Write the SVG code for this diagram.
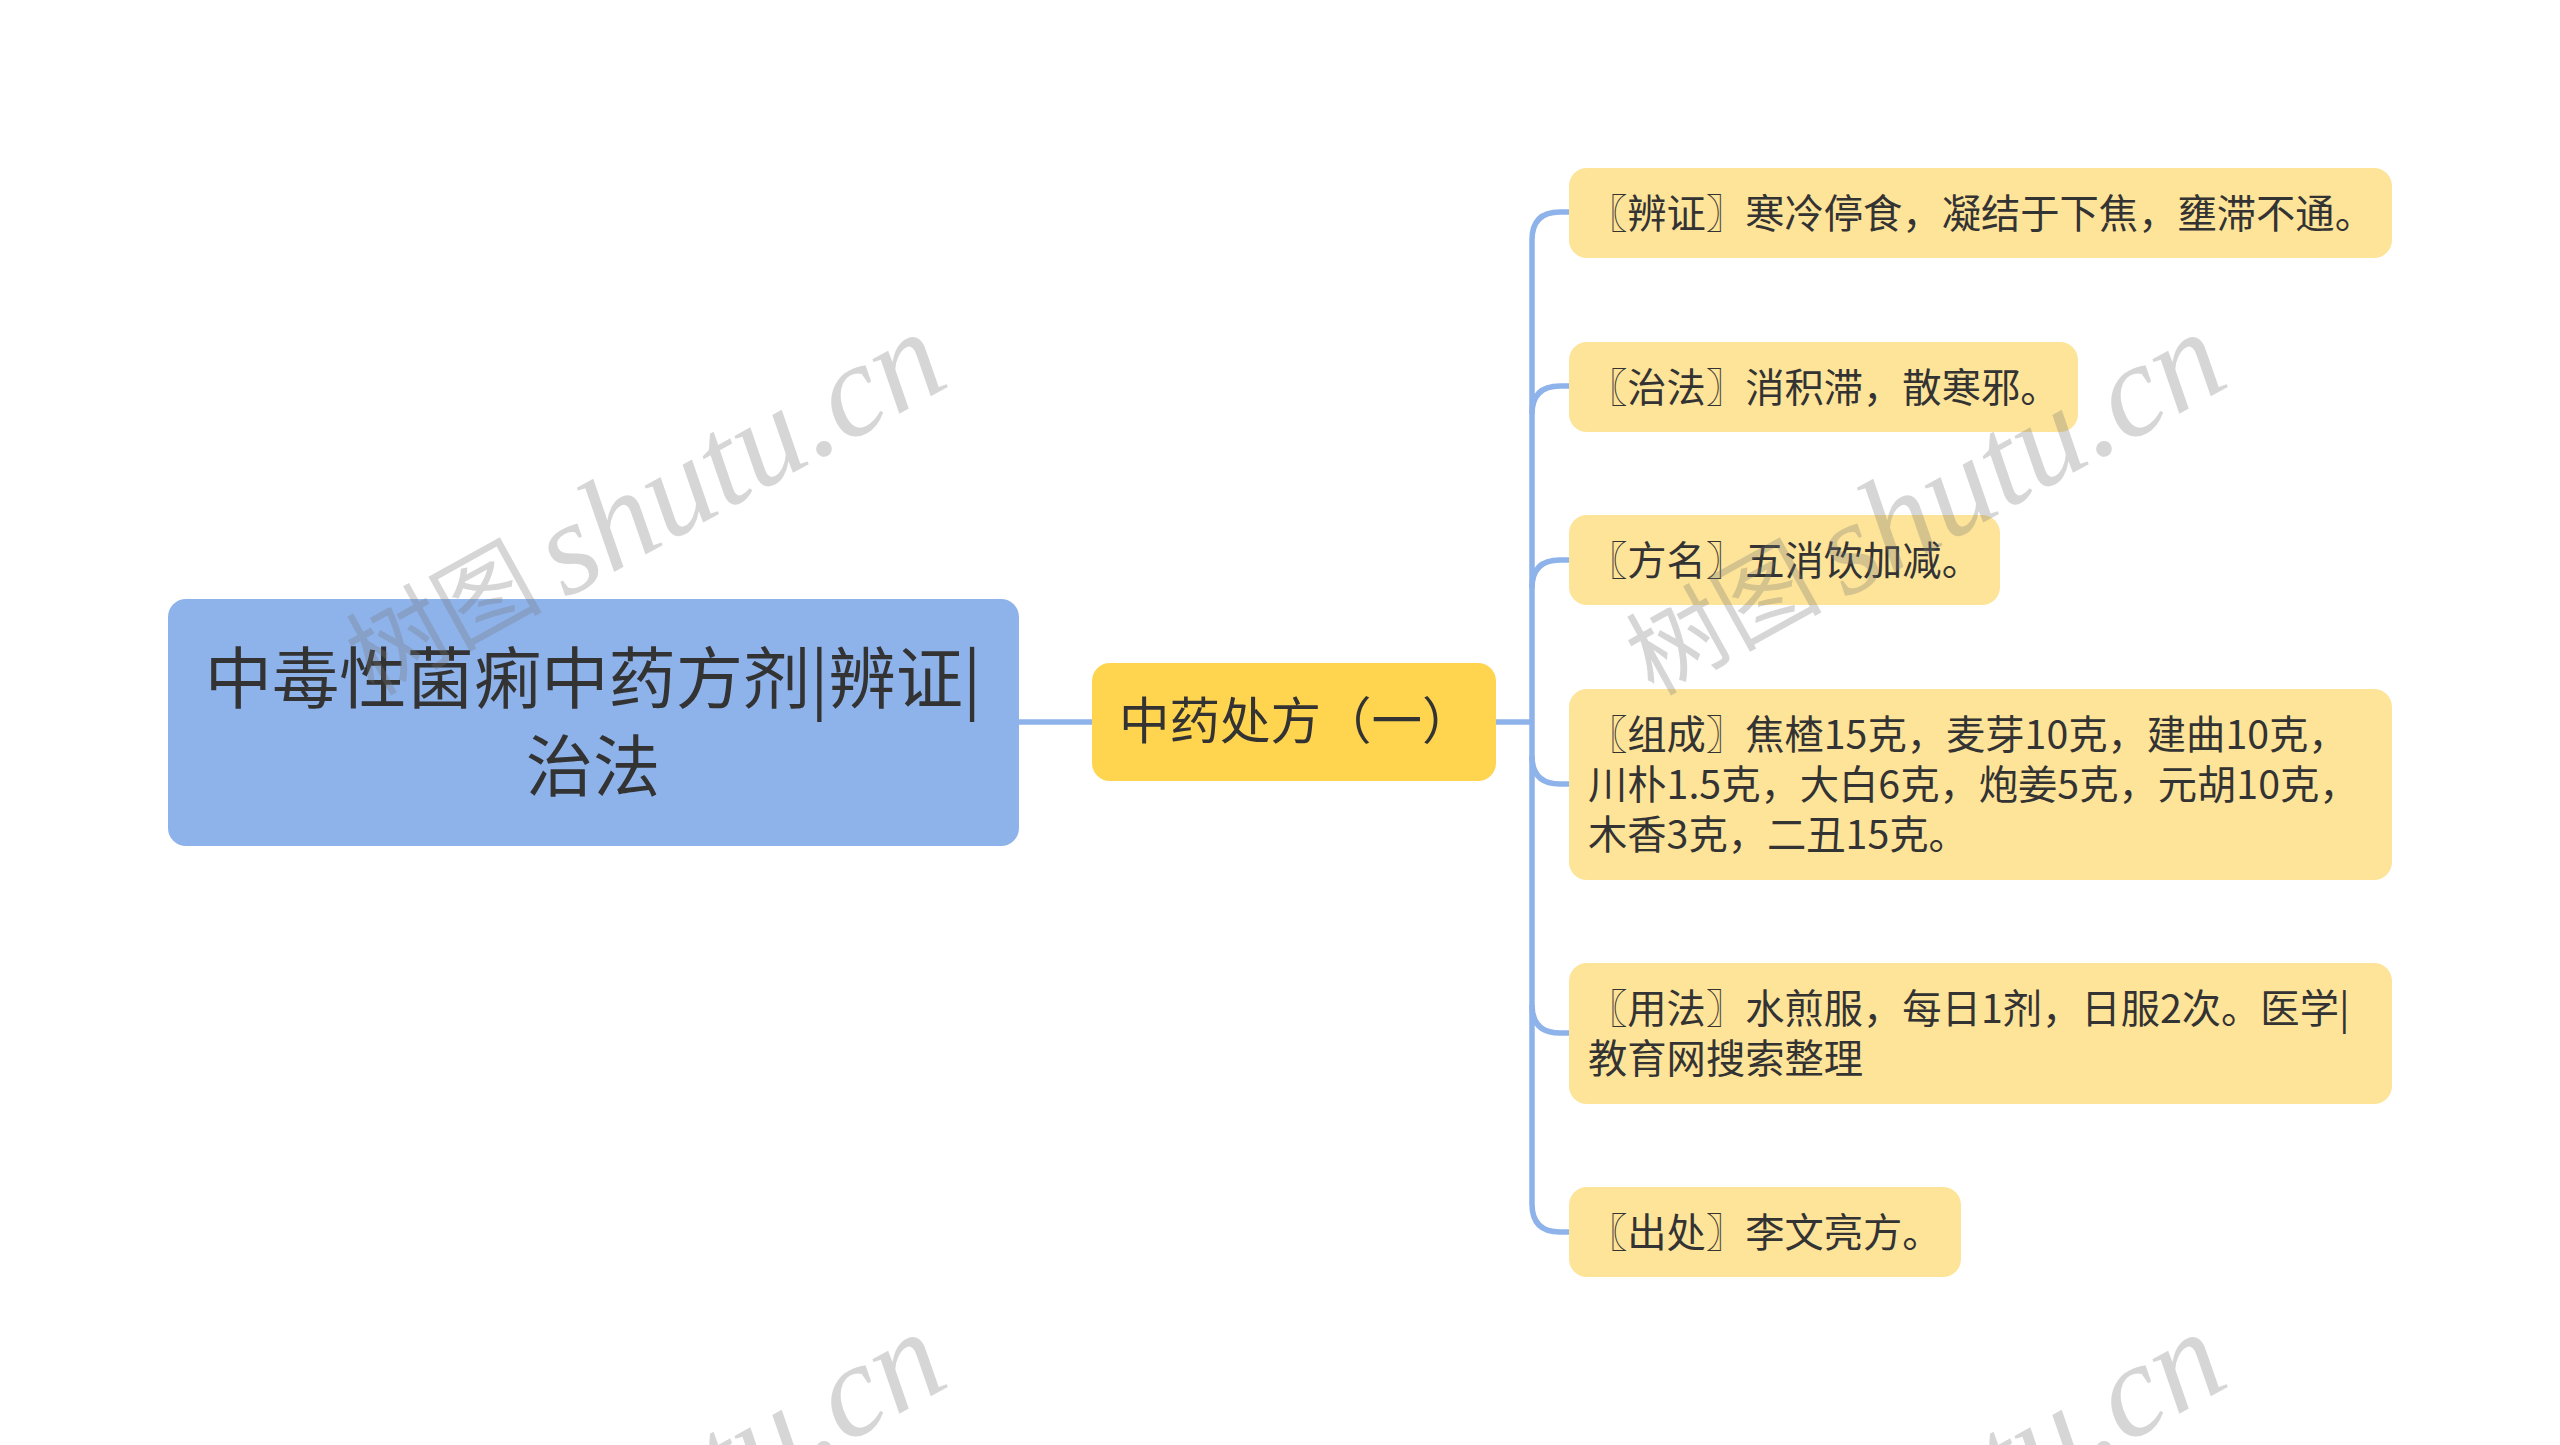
<svg xmlns="http://www.w3.org/2000/svg" width="2560" height="1445" viewBox="0 0 2560 1445">
<style>
text{font-family:"Noto Sans CJK SC","Noto Sans",sans-serif}
.leaf rect{fill:#fee499}
.leaf text{font-size:39.3px;fill:#333}
.wm{fill:#777;fill-opacity:.3}
.wl{font-family:"Liberation Serif",serif;font-style:italic;font-size:132px;text-anchor:end}
.wc{font-size:98px;text-anchor:middle}
#connectors path{fill:none;stroke:#8eb2ea;stroke-width:5.5}
</style>
<defs>
<text id="wl" class="wm wl" transform="rotate(-29)">shutu.cn</text>
<text id="wc" class="wm wc" transform="rotate(-29)">树图</text>
</defs>
<rect width="2560" height="1445" fill="#fff"/>
<g id="connectors">
<path d="M1019 722H1093"/>
<path d="M1495 722H1532"/>
<path d="M1569 212H1560Q1532 212 1532 240V1204Q1532 1232 1560 1232H1569"/>
<path d="M1569 386H1560Q1532 386 1532 414"/>
<path d="M1569 560H1560Q1532 560 1532 588"/>
<path d="M1569 784H1560Q1532 784 1532 756"/>
<path d="M1569 1033H1560Q1532 1033 1532 1005"/>
</g>
<g id="root"><rect x="168" y="599" width="851" height="247" rx="18" fill="#8eb2ea"/>
<text x="593" y="703" font-size="67.3" fill="#333" text-anchor="middle">中毒性菌痢中药方剂|辨证|</text>
<text x="593" y="791" font-size="67.3" fill="#333" text-anchor="middle">治法</text></g>
<g id="mid"><rect x="1092" y="663" width="404" height="118" rx="18" fill="#ffd44f"/>
<text x="1119" y="739" font-size="50.5" fill="#333">中药处方（一）</text></g>
<g id="n1" class="leaf"><rect x="1569" y="168" width="823" height="90" rx="18"/><text x="1588" y="228">〖辨证〗寒冷停食，凝结于下焦，壅滞不通。</text></g>
<g id="n2" class="leaf"><rect x="1569" y="342" width="509" height="90" rx="18"/><text x="1588" y="402">〖治法〗消积滞，散寒邪。</text></g>
<g id="n3" class="leaf"><rect x="1569" y="515" width="431" height="90" rx="18"/><text x="1588" y="575">〖方名〗五消饮加减。</text></g>
<g id="n4" class="leaf"><rect x="1569" y="689" width="823" height="191" rx="18"/>
<text x="1588" y="749">〖组成〗焦楂15克，麦芽10克，建曲10克，</text><text x="1588" y="799">川朴1.5克，大白6克，炮姜5克，元胡10克，</text><text x="1588" y="849">木香3克，二丑15克。</text></g>
<g id="n5" class="leaf"><rect x="1569" y="963" width="823" height="141" rx="18"/>
<text x="1588" y="1023">〖用法〗水煎服，每日1剂，日服2次。医学|</text><text x="1588" y="1073">教育网搜索整理</text></g>
<g id="n6" class="leaf"><rect x="1569" y="1187" width="392" height="90" rx="18"/><text x="1588" y="1247">〖出处〗李文亮方。</text></g>
<g id="watermarks">
<use href="#wc" x="459" y="649"/><use href="#wl" x="953" y="384"/>
<use href="#wc" x="1739" y="649"/><use href="#wl" x="2233" y="384"/>
<use href="#wl" x="953" y="1384"/><use href="#wl" x="2233" y="1384"/>
</g>
</svg>
